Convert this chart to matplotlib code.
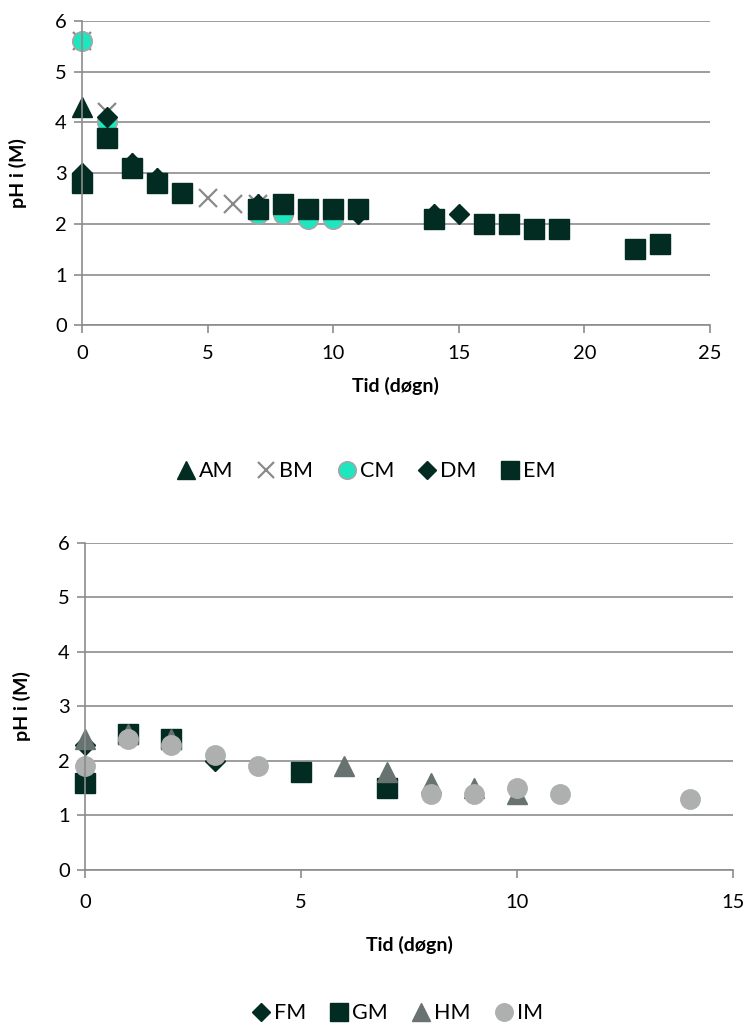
import matplotlib
matplotlib.use("Agg")
import matplotlib.pyplot as plt

plt.rcParams['font.family'] = ['Lato', 'DejaVu Sans']

################################################################################
# Data (top chart)

am_x = [0, 0, 1, 2, 3, 7, 14]
am_y = [4.3, 3.0, 4.0, 3.2, 2.9, 2.4, 2.2]
bm_x = [0, 1, 5, 6, 7]
bm_y = [5.6, 4.2, 2.5, 2.4, 2.4]
cm_x = [0, 1, 7, 8, 9, 10]
cm_y = [5.6, 4.0, 2.2, 2.2, 2.1, 2.1]
dm_x = [0, 1, 2, 3, 7, 11, 14, 15]
dm_y = [3.0, 4.1, 3.2, 2.9, 2.4, 2.2, 2.2, 2.2]
em_x = [0, 1, 2, 3, 4, 7, 8, 9, 10, 11, 14, 16, 17, 18, 19, 22, 23]
em_y = [2.8, 3.7, 3.1, 2.8, 2.6, 2.3, 2.4, 2.3, 2.3, 2.3, 2.1, 2.0, 2.0, 1.9,
        1.9, 1.5, 1.6]

# Data (bottom chart)
fm_x = [0, 1, 2, 3]
fm_y = [2.3, 2.5, 2.4, 2.0]
gm_x = [0, 1, 2, 5, 7]
gm_y = [1.6, 2.5, 2.4, 1.8, 1.5]
hm_x = [0, 1, 2, 6, 7, 8, 9, 10]
hm_y = [2.4, 2.5, 2.4, 1.9, 1.8, 1.6, 1.5, 1.4]
im_x = [0, 1, 2, 3, 4, 8, 9, 10, 11, 14]
im_y = [1.9, 2.4, 2.3, 2.1, 1.9, 1.4, 1.4, 1.5, 1.4, 1.3]

################################################################################
# Estilos

dark = '#022b22'
grid_c = '#8c8c8c'

def style_axes(ax, xmax, xstep, xpad, xlab_y, ylab_x):
    ax.set_ylim(0, 6)
    ax.set_xlim(0, xmax)
    ax.set_xticks(range(0, xmax + 1, xstep))
    ax.set_yticks(range(0, 7))
    ax.grid(axis='y', color=grid_c, linewidth=1.2)
    ax.set_axisbelow(True)
    for s in ['top', 'right']:
        ax.spines[s].set_visible(False)
    for s in ['left', 'bottom']:
        ax.spines[s].set_color(grid_c)
        ax.spines[s].set_linewidth(1.2)
    ax.tick_params(axis='both', colors=grid_c, length=6, width=1.2,
                   labelsize=14.5, labelcolor='black', direction='out', pad=5)
    ax.tick_params(axis='x', pad=xpad)
    ax.set_xlabel("Tid (døgn)", fontsize=14, fontweight='bold', va='center')
    ax.set_ylabel("pH i (M)", fontsize=14, fontweight='bold', va='center')
    ax.xaxis.set_label_coords(0.5, xlab_y)
    ax.yaxis.set_label_coords(ylab_x, 0.5)

fig = plt.figure(figsize=(7.52, 10.26), dpi=100)

################################################################################
# Gráfica superior

ax1 = fig.add_axes([0.109, 0.683, 0.835, 0.2965])
ax1.plot(am_x, am_y, '^', ms=14, color=dark, mec=dark, label='AM', clip_on=False)
ax1.plot(bm_x, bm_y, 'x', ms=13, color='#8a8a8a', mew=1.6, label='BM', clip_on=False)
ax1.plot(cm_x, cm_y, 'o', ms=14, mfc='#1ee6bf', mec='#a6a6a6', mew=1.2,
         label='CM', clip_on=False)
ax1.plot(dm_x, dm_y, 'D', ms=10, color=dark, mec=dark, label='DM', clip_on=False)
ax1.plot(em_x, em_y, 's', ms=14, color=dark, mec=dark, label='EM', clip_on=False)
style_axes(ax1, 25, 5, 8, -0.20, -0.102)
ax1.legend(loc='center', bbox_to_anchor=(0.45, -0.48), ncol=5,
           frameon=False, fontsize=15.5, handletextpad=0.05, columnspacing=1.0,
           markerscale=0.9, handlelength=1.1)

################################################################################
# Gráfica inferior

ax2 = fig.add_axes([0.113, 0.152, 0.862, 0.319])
ax2.plot(fm_x, fm_y, 'D', ms=10, color=dark, mec=dark, label='FM', clip_on=False)
ax2.plot(gm_x, gm_y, 's', ms=14, color=dark, mec=dark, label='GM', clip_on=False)
ax2.plot(hm_x, hm_y, '^', ms=14, color='#687270', mec='#687270', label='HM',
         clip_on=False)
ax2.plot(im_x, im_y, 'o', ms=14, color='#adb0ae', mec='#adb0ae', label='IM',
         clip_on=False)
style_axes(ax2, 15, 5, 11, -0.229, -0.097)
ax2.legend(loc='center', bbox_to_anchor=(0.48, -0.437), ncol=4,
           frameon=False, fontsize=15.5, handletextpad=0.05, columnspacing=1.0,
           markerscale=0.9, handlelength=1.1)

fig.savefig("out.png", dpi=100)
